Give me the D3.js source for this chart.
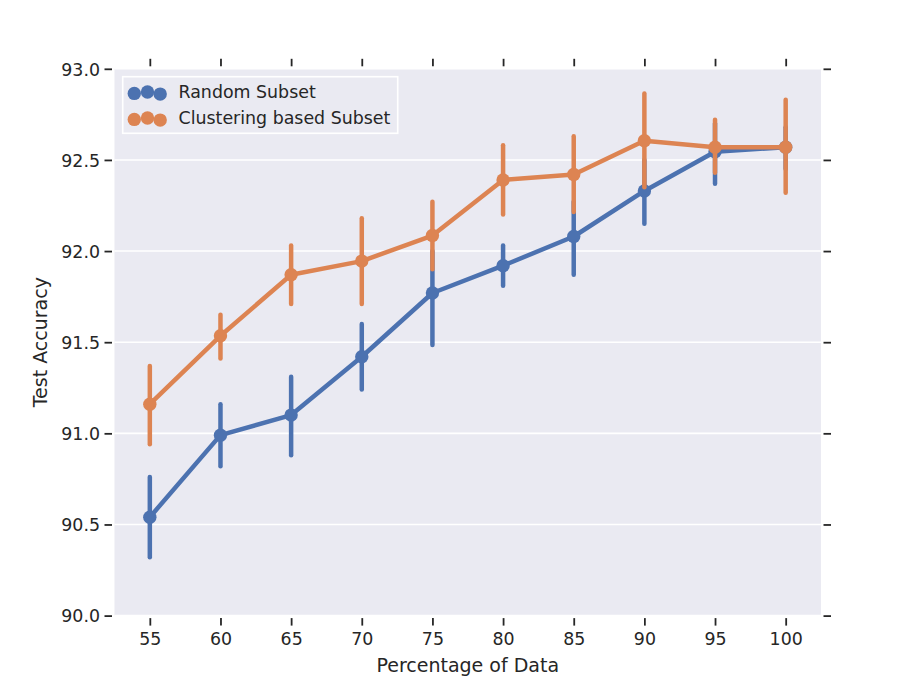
<!DOCTYPE html>
<html>
<head>
<meta charset="utf-8">
<script src="https://cdn.jsdelivr.net/npm/d3@7"></script>
<style>
  body { margin: 0; background: #fff; }
  svg { display: block; font-family: "DejaVu Sans", sans-serif; }
</style>
</head>
<body>
<svg id="chart" width="913" height="685"></svg>
<script>
// Data
const percentages = [55, 60, 65, 70, 75, 80, 85, 90, 95, 100];

const randomMean = [90.54, 90.99, 91.10, 91.42, 91.77, 91.92, 92.08, 92.33, 92.545, 92.57];
const randomLow  = [90.32, 90.82, 90.88, 91.24, 91.485, 91.81, 91.87, 92.15, 92.37, 92.45];
const randomHigh = [90.76, 91.16, 91.31, 91.60, 92.00, 92.03, 92.27, 92.50, 92.70, 92.68];

const clusterMean = [91.16, 91.535, 91.87, 91.945, 92.085, 92.39, 92.42, 92.605, 92.57, 92.57];
const clusterLow  = [90.94, 91.41, 91.71, 91.71, 91.90, 92.20, 92.215, 92.35, 92.43, 92.32];
const clusterHigh = [91.37, 91.65, 92.03, 92.18, 92.27, 92.58, 92.63, 92.865, 92.72, 92.83];

const yTicks = [90.0, 90.5, 91.0, 91.5, 92.0, 92.5, 93.0];

const seriesNames = ["Random Subset", "Clustering based Subset"];
const seriesColors = ["#4C72B0", "#DD8452"];

// Layout
const plot = { left: 114.5, right: 821, top: 68.8, bottom: 615.6 };
const textColor = "#262626";
const tickGap = 2.5, tickLen = 7.5;
const tickFont = "17.4px", labelFont = "19px";

const svg = d3.select("#chart");

const x = d3.scalePoint()
  .domain(percentages)
  .range([plot.left, plot.right])
  .padding(0.5);

const y = d3.scaleLinear()
  .domain([90, 93])
  .range([plot.bottom, plot.top]);

// Background of the axes
svg.append("rect")
  .attr("x", plot.left)
  .attr("y", plot.top)
  .attr("width", plot.right - plot.left)
  .attr("height", plot.bottom - plot.top)
  .attr("fill", "#EAEAF2");

// Horizontal grid lines
svg.append("g")
  .selectAll("line")
  .data(yTicks)
  .enter().append("line")
  .attr("x1", plot.left)
  .attr("x2", plot.right)
  .attr("y1", (d) => y(d))
  .attr("y2", (d) => y(d))
  .attr("stroke", "white")
  .attr("stroke-width", 1.6);

// Axes: ticks on all four sides, labels on left and bottom only
function styleAxis(g) {
  g.select(".domain").remove();
  g.selectAll(".tick line").attr("stroke", textColor).attr("stroke-width", 1.8);
  g.selectAll(".tick text")
    .attr("fill", textColor)
    .attr("font-size", tickFont)
    .attr("font-family", "DejaVu Sans, sans-serif");
}

svg.append("g")
  .attr("transform", `translate(${plot.left - tickGap},0)`)
  .call(d3.axisLeft(y).tickValues(yTicks).tickSize(tickLen).tickPadding(4.5).tickFormat(d3.format(".1f")))
  .call(styleAxis)
  .selectAll(".tick text")
  .attr("dy", "0.36em");

svg.append("g")
  .attr("transform", `translate(${plot.right + tickGap},0)`)
  .call(d3.axisRight(y).tickValues(yTicks).tickSize(tickLen).tickFormat(""))
  .call(styleAxis);

svg.append("g")
  .attr("transform", `translate(0,${plot.bottom + tickGap})`)
  .call(d3.axisBottom(x).tickSize(tickLen).tickPadding(7))
  .call(styleAxis);

svg.append("g")
  .attr("transform", `translate(0,${plot.top - tickGap})`)
  .call(d3.axisTop(x).tickSize(tickLen).tickFormat(""))
  .call(styleAxis);

// Axis labels
svg.append("text")
  .attr("x", (plot.left + plot.right) / 2)
  .attr("y", 671.5)
  .attr("text-anchor", "middle")
  .attr("font-size", labelFont)
  .attr("fill", textColor)
  .text("Percentage of Data");

svg.append("text")
  .attr("transform", `translate(47,${(plot.top + plot.bottom) / 2}) rotate(-90)`)
  .attr("text-anchor", "middle")
  .attr("font-size", labelFont)
  .attr("fill", textColor)
  .text("Test Accuracy");

// Point plot series
const series = [
  { name: seriesNames[0], color: seriesColors[0], mean: randomMean, low: randomLow, high: randomHigh },
  { name: seriesNames[1], color: seriesColors[1], mean: clusterMean, low: clusterLow, high: clusterHigh },
];

const line = d3.line()
  .x((d, i) => x(percentages[i]))
  .y((d) => y(d));

series.forEach((s) => {
  const g = svg.append("g");

  g.append("path")
    .attr("d", line(s.mean))
    .attr("fill", "none")
    .attr("stroke", s.color)
    .attr("stroke-width", 4.5)
    .attr("stroke-linejoin", "round");

  g.selectAll("line.err")
    .data(percentages)
    .enter().append("line")
    .attr("class", "err")
    .attr("x1", (d) => x(d))
    .attr("x2", (d) => x(d))
    .attr("y1", (d, i) => y(s.low[i]))
    .attr("y2", (d, i) => y(s.high[i]))
    .attr("stroke", s.color)
    .attr("stroke-width", 4.5)
    .attr("stroke-linecap", "round");

  g.selectAll("circle")
    .data(s.mean)
    .enter().append("circle")
    .attr("cx", (d, i) => x(percentages[i]))
    .attr("cy", (d) => y(d))
    .attr("r", 6.7)
    .attr("fill", s.color);
});

// Legend
const legend = svg.append("g");
legend.append("rect")
  .attr("x", 122.7)
  .attr("y", 76.7)
  .attr("width", 275)
  .attr("height", 56.6)
  .attr("fill", "#EAEAF2")
  .attr("stroke", "white")
  .attr("stroke-width", 1.6);

const markerX = [134.3, 147.5, 160.2];
const markerDy = [1.4, 0, 2.1];

series.forEach((s, j) => {
  const cy = 92 + j * 26;
  legend.selectAll(`circle.m${j}`)
    .data(markerX)
    .enter().append("circle")
    .attr("class", `m${j}`)
    .attr("cx", (d) => d)
    .attr("cy", (d, k) => cy + markerDy[k])
    .attr("r", 6.7)
    .attr("fill", s.color);
  legend.append("text")
    .attr("x", 178.5)
    .attr("y", cy)
    .attr("dy", "0.36em")
    .attr("font-size", tickFont)
    .attr("fill", textColor)
    .text(s.name);
});
</script>
</body>
</html>
